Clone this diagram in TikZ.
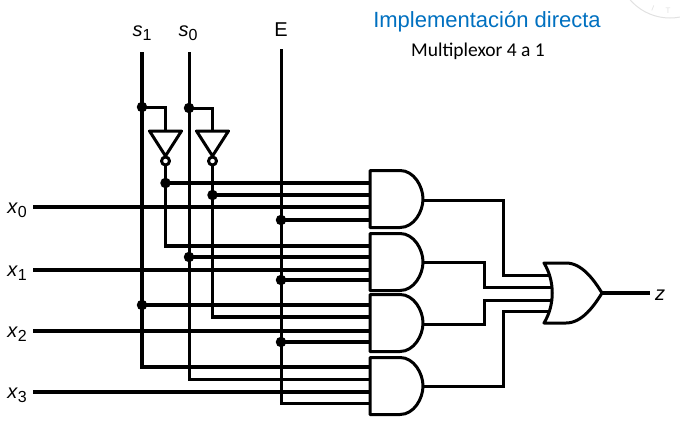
\documentclass[tikz,border=0pt]{standalone}
\usepackage{fontspec}
\setmainfont{Liberation Sans}
\newfontfamily\subfont{Carlito}
\usetikzlibrary{calc}
\definecolor{titleblue}{RGB}{0, 112, 192}
\definecolor{sealgray}{RGB}{225, 225, 225}
\newcommand{\sigsub}[2]{\textit{#1}\raisebox{-4pt}{\fontsize{16}{18}\selectfont #2}}

\begin{document}
\begin{tikzpicture}[x=1pt,y=-1pt]

\tikzstyle{wire} = [line width=3.4pt]
\tikzstyle{thinwire} = [line width=3pt]
\tikzstyle{gate} = [line width=3pt, line join=round, fill=white]
\tikzstyle{dot} = [circle, fill, inner sep=0pt, minimum size=10.5pt]
\tikzstyle{signal} = [font=\fontsize{20}{22}\selectfont, inner sep=0pt]

\useasboundingbox (0,0) rectangle (680,426);

% seal in the corner
\begin{scope}
\clip (600,0) rectangle (680,40);
\draw [sealgray, line width=1pt] (670,-35) circle (53pt);
\end{scope}
\node [sealgray, font=\fontsize{8}{9}\selectfont, inner sep=0pt, rotate=-22] (sealI) at (653,8) {I};
\node [sealgray, font=\fontsize{8}{9}\selectfont, inner sep=0pt] (sealT) at (668,11) {T};

\node [titleblue, font=\fontsize{22}{24}\selectfont, inner sep=0pt] (title) at (487,21.5) {Implementación directa};
\node [font=\subfont\fontsize{19.5}{21}\selectfont, inner sep=0pt] (subtitle) at (478,51) {Multiplexor 4 a 1};

% control lines
\coordinate (s1top) at (142,52);
\coordinate (s0top) at (189,52);
\coordinate (Etop) at (281,49);

\node [signal] (s1label) at (142,33) {\sigsub{s}{1}};
\node [signal] (s0label) at (188,33) {\sigsub{s}{0}};
\node [signal] (Elabel) at (281,30) {E};

% and gates
\foreach \name/\y/\a/\b/\c/\d/\o in {g0/170.5/183/195/207/220/200, g1/233.5/246/257/270/280/262, g2/294.5/305/317/331/342/324, g3/357.5/367/379/392/403/386} {
  \draw [gate] (370,\y) -- (400,\y) .. controls (414,\y) and (423,\y+16) .. (423,\y+28.5)
    .. controls (423,\y+41) and (414,\y+57) .. (400,\y+57) -- (370,\y+57) -- cycle;
  \coordinate (\name a) at (370,\a);
  \coordinate (\name b) at (370,\b);
  \coordinate (\name c) at (370,\c);
  \coordinate (\name d) at (370,\d);
  \coordinate (\name out) at (423,\o);
}

% or gate
\draw [gate] (544,263) -- (566,263) .. controls (582,263) and (594,280) .. (602,293)
  .. controls (594,306) and (582,323) .. (566,323) -- (544,323)
  .. controls (555,305) and (555,281) .. (544,263) -- cycle;
\coordinate (or0) at (550,275);
\coordinate (or1) at (552,287);
\coordinate (or2) at (552,300);
\coordinate (or3) at (550,311);
\coordinate (orout) at (602,293);

% inverters
\foreach \name/\x in {inv1/165.5, inv0/212.5} {
  \draw [gate] (\x-16,131) -- (\x+16,131) -- (\x,156) -- cycle;
  \draw [gate] (\x,161) circle (4pt);
  \coordinate (\name in) at (\x,131);
  \coordinate (\name out) at (\x,165);
}

% junctions
\node [dot] (js1) at (s1top |- 0,107) {};
\node [dot] (js0) at (s0top |- 0,108) {};
\node [dot] (jn1) at (inv1out |- g0a) {};
\node [dot] (jn0) at (inv0out |- g0b) {};
\node [dot] (js0b) at (s0top |- g1b) {};
\node [dot] (js1b) at (s1top |- g2a) {};
\node [dot] (jE0) at (Etop |- g0d) {};
\node [dot] (jE1) at (Etop |- g1d) {};
\node [dot] (jE2) at (Etop |- g2d) {};

\draw [wire] (s1top) -- (js1.center) |- (g3a);
\draw [thinwire] (s0top) -- (js0.center) |- (g3b);
\draw [thinwire] (Etop) -- (jE0.center) -- (jE1.center) -- (jE2.center) |- (g3d);

\draw [thinwire] (js1.center) -| (inv1in);
\draw [thinwire] (js0.center) -| (inv0in);

\draw [wire] (inv1out) -- (jn1.center) |- (g1a);
\draw [wire] (inv0out) -- (jn0.center) |- (g2b);

\draw [wire] (jn1.center) -- (g0a);
\draw [wire] (jn0.center) -- (g0b);
\draw [wire] (jE0.center) -- (g0d);
\draw [wire] (js0b.center) -- (g1b);
\draw [wire] (jE1.center) -- (g1d);
\draw [wire] (js1b.center) -- (g2a);
\draw [wire] (jE2.center) -- (g2d);

% data inputs
\foreach \i/\g in {0/g0c, 1/g1c, 2/g2c, 3/g3c} {
  \coordinate (x\i) at (33,0 |- \g);
  \draw [wire] (x\i) -- (\g);
  \node [signal] (x\i label) at ($(x\i)+(-16,3)$) {\sigsub{x}{\i}};
}

% outputs to the or gate
\draw [thinwire] (g0out) -- (503,200) |- (or0);
\draw [thinwire] (g1out) -- (484,262) |- (or1);
\draw [thinwire] (g2out) -- (484,324) |- (or2);
\draw [thinwire] (g3out) -- (503,386) |- (or3);

\coordinate (zend) at (650,293);
\draw [wire] (orout) -- (zend);
\node [signal] (zlabel) at (660,295) {\textit{z}};

\end{tikzpicture}
\end{document}
